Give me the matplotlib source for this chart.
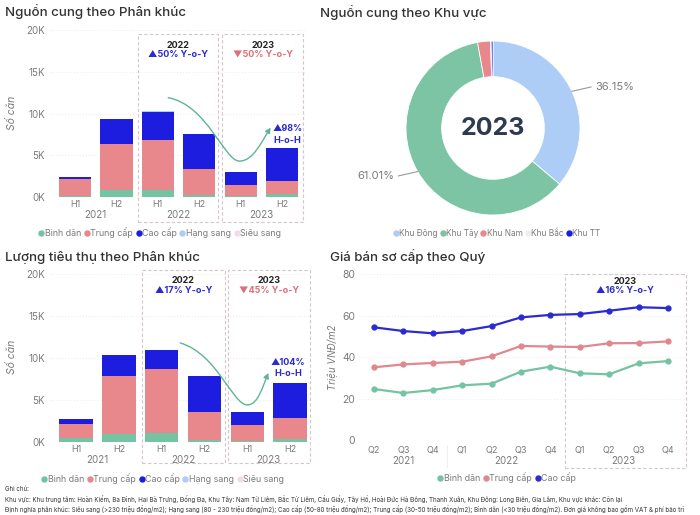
import matplotlib
matplotlib.use("Agg")
import matplotlib.pyplot as plt
import numpy as np
from matplotlib.patches import Rectangle, FancyArrowPatch
from matplotlib.path import Path
from matplotlib.lines import Line2D

plt.rcParams['font.family'] = ['Inter', 'DejaVu Sans']

# ---- data ----
halves = ['H1', 'H2', 'H1', 'H2', 'H1', 'H2']
years = ['2021', '2022', '2023']
segments = ['Bình dân', 'Trung cấp', 'Cao cấp', 'Hạng sang', 'Siêu sang']

supply_binh_dan = [150, 800, 800, 200, 100, 350]
supply_trung_cap = [1950, 5600, 6000, 3200, 1300, 1550]
supply_cao_cap = [300, 2900, 3350, 4200, 1600, 4000]
supply_hang_sang = [0, 0, 100, 0, 0, 0]
supply_sieu_sang = [0, 0, 0, 0, 0, 0]

sales_binh_dan = [450, 900, 1000, 150, 80, 350]
sales_trung_cap = [1650, 6900, 7700, 3350, 1920, 2450]
sales_cao_cap = [600, 2550, 2300, 4350, 1500, 4200]
sales_hang_sang = [0, 50, 0, 50, 0, 0]
sales_sieu_sang = [0, 0, 0, 0, 0, 0]

regions = ['Khu Đông', 'Khu Tây', 'Khu Nam', 'Khu Bắc', 'Khu TT']
region_share = [36.15, 61.01, 2.40, 0.10, 0.34]

quarters = ['Q2', 'Q3', 'Q4', 'Q1', 'Q2', 'Q3', 'Q4', 'Q1', 'Q2', 'Q3', 'Q4']
quarter_years = ['2021', '2022', '2023']
price_binh_dan = [24.6, 22.7, 24.1, 26.4, 27.2, 33.0, 35.4, 32.2, 31.7, 37.0, 38.1]
price_trung_cap = [35.1, 36.5, 37.2, 37.8, 40.4, 45.4, 45.1, 44.9, 46.7, 46.8, 47.6]
price_cao_cap = [54.4, 52.6, 51.5, 52.6, 55.0, 59.2, 60.4, 60.8, 62.4, 64.1, 63.7]

# ---- styling ----
seg_colors = ['#74c3a3', '#e8878c', '#1d1de0', '#aecdf6', '#f3dcea']
region_colors = ['#aecdf6', '#7cc4a4', '#e8878c', '#f0ecf0', '#1d1de0']
BLUE_TXT = '#2a2ad0'
PINK_TXT = '#d9707a'
GRAY = '#7a7a7a'
TITLE = '#333333'
BOX = '#d4c6cc'

W, H = 700, 515
fig = plt.figure(figsize=(7, 5.15), dpi=100)


def px_axes(l, t, r, b):
    return fig.add_axes([l / W, 1 - b / H, (r - l) / W, (b - t) / H])


def style_axes(ax):
    for s in ax.spines.values():
        s.set_visible(False)
    ax.tick_params(length=0, colors=GRAY, labelsize=7)
    ax.grid(axis='y', color='#eeeeee', linestyle=':', linewidth=0.8)
    ax.set_axisbelow(True)


def seg_legend(x, y, labels, colors, size=6.4):
    handles = [Line2D([], [], marker='o', linestyle='', markersize=3.6,
                      markerfacecolor=c, markeredgecolor=c) for c in colors]
    fig.legend(handles, labels, loc='center', bbox_to_anchor=(x / W, 1 - y / H),
               ncol=len(labels), frameon=False, fontsize=size, handletextpad=0.12,
               handlelength=0.5, columnspacing=0.4, labelcolor=GRAY, borderaxespad=0)


def title(x, y, text):
    fig.text(x / W, 1 - y / H, text, fontsize=9.6, color=TITLE, va='center', fontweight='medium')


def bar_panel(ax, stacks, boxes, txt22, txt23, hoh, curve, labels_y):
    x = np.arange(len(halves))
    bottom = np.zeros(len(halves))
    for vals, col in zip(stacks, seg_colors):
        ax.bar(x, vals, 0.78, bottom=bottom, color=col, linewidth=0)
        bottom += np.array(vals)
    ax.set_ylim(0, 20000)
    ax.set_yticks([0, 5000, 10000, 15000, 20000], ['0K', '5K', '10K', '15K', '20K'])
    ax.set_xticks([])
    style_axes(ax)
    hy, yy = labels_y
    for i, h in enumerate(halves):
        ax.text(i, hy, h, ha='center', va='center', fontsize=6.5, color=GRAY)
    for i, yr in enumerate(years):
        ax.text(2 * i + 0.5, yy, yr, ha='center', va='center', fontsize=7, color=GRAY)
    for (x0, x1, y0, y1) in boxes:
        ax.add_patch(Rectangle((x0, y0), x1 - x0, y1 - y0, fill=False, edgecolor=BOX,
                               linestyle=(0, (3, 2)), linewidth=0.8, clip_on=False))
    (c22, c23) = [(b[0] + b[1]) / 2 for b in boxes]
    ty = boxes[0][3] - 1300
    ax.text(c22, ty, '2022', ha='center', va='center', fontsize=6.5, fontweight='bold', color='#222222')
    ax.text(c22, ty - 1100, txt22, ha='center', va='center', fontsize=6.5, fontweight='bold', color=BLUE_TXT)
    ax.text(c23, ty, '2023', ha='center', va='center', fontsize=6.5, fontweight='bold', color='#222222')
    ax.text(c23, ty - 1100, txt23, ha='center', va='center', fontsize=6.5, fontweight='bold', color=PINK_TXT)
    hx, hy1, hy2 = hoh[1]
    ax.text(hx, hy1, hoh[0], ha='center', va='center', fontsize=6.5, fontweight='bold', color=BLUE_TXT)
    ax.text(hx, hy2, 'H-o-H', ha='center', va='center', fontsize=6.5, fontweight='bold', color=BLUE_TXT)
    path = Path(curve, [Path.MOVETO, Path.CURVE4, Path.CURVE4, Path.CURVE4,
                        Path.CURVE4, Path.CURVE4, Path.CURVE4])
    ax.add_patch(FancyArrowPatch(path=path, arrowstyle='-|>,head_length=3,head_width=1.6',
                                 color='#5fb496', linewidth=1.0, clip_on=False))


# ---- top-left: supply by segment ----
title(5, 12, 'Nguồn cung theo Phân khúc')
ax1 = px_axes(50, 30, 305, 197)
ax1.set_xlim(-0.6, 5.55)
bar_panel(ax1, [supply_binh_dan, supply_trung_cap, supply_cao_cap, supply_hang_sang, supply_sieu_sang],
          [(1.525, 3.46, -3000, 19500), (3.56, 5.5, -3000, 19500)],
          '▲50% Y-o-Y', '▼50% Y-o-Y', ('▲98%', (5.13, 8200, 6800)),
          [(2.25, 11900), (3.2, 11000), (3.6, 4300), (3.97, 4300),
           (4.3, 4300), (4.5, 6600), (4.72, 8300)],
          (-850, -2200))
ax1.set_xlim(-0.6, 5.55)
fig.text(12 / W, 1 - 113 / H, 'Số căn', rotation=90, fontsize=7.5, color=GRAY,
         style='italic', ha='center', va='center')
seg_legend(160, 233, segments, seg_colors)

# ---- top-right: supply by region (donut) ----
title(320, 13, 'Nguồn cung theo Khu vực')
cx, cy, R = 493, 128, 87
ax2 = px_axes(cx - 100, cy - 100, cx + 100, cy + 100)
ax2.pie(region_share, colors=region_colors, startangle=90, counterclock=False, radius=1,
        wedgeprops=dict(width=0.41, edgecolor='white', linewidth=0.6))
ax2.set_xlim(-100 / R, 100 / R)
ax2.set_ylim(-100 / R, 100 / R)
ax2.set_aspect('equal')
ax2.axis('off')
ax2.text(0, 0, '2023', ha='center', va='center', fontsize=18, fontweight='bold', color='#2d3a4f')
cum = 0
for share in region_share:
    mid = np.deg2rad(90 - (cum + share / 2) * 3.6)
    cum += share
    if share < 30:
        continue
    ex, ey = np.cos(mid), np.sin(mid)
    side = 1 if ex > 0 else -1
    ax2.plot([ex, ex + side * 0.22], [ey, ey + 0.05 * side], color='#999999', linewidth=0.8,
             clip_on=False)
    ax2.text(ex + side * 0.27, ey + 0.05 * side, f'{share:.2f}%', ha='left' if side > 0 else 'right',
             va='center', fontsize=8, color=GRAY)
seg_legend(497, 233, regions, region_colors, size=6)

# ---- bottom-left: sales by segment ----
title(5, 257, 'Lượng tiêu thụ theo Phân khúc')
ax3 = px_axes(50, 274.3, 312, 441.7)
ax3.set_xlim(-0.61, 5.51)
bar_panel(ax3, [sales_binh_dan, sales_trung_cap, sales_cao_cap, sales_hang_sang, sales_sieu_sang],
          [(1.535, 3.48, -2550, 20500), (3.55, 5.47, -2550, 20500)],
          '▲17% Y-o-Y', '▼45% Y-o-Y', ('▲104%', (4.95, 9500, 8200)),
          [(2.43, 11800), (3.3, 10500), (3.65, 4400), (4.0, 4400),
           (4.25, 4400), (4.35, 6500), (4.49, 8200)],
          (-900, -2200))
ax3.set_xlim(-0.61, 5.51)
fig.text(12 / W, 1 - 357 / H, 'Số căn', rotation=90, fontsize=7.5, color=GRAY,
         style='italic', ha='center', va='center')
seg_legend(163, 479, segments, seg_colors)

# ---- bottom-right: primary price by quarter ----
title(330, 257, 'Giá bán sơ cấp theo Quý')
ax4 = px_axes(359.3, 274.3, 685.6, 440)
qx = np.arange(len(quarters))
line_colors = ['#74c3a3', '#e0878f', '#2b2bd1']
for vals, col in zip([price_binh_dan, price_trung_cap, price_cao_cap], line_colors):
    ax4.plot(qx, vals, color=col, linewidth=1.6, marker='o', markersize=3.5)
ax4.set_xlim(-0.5, 10.6)
ax4.set_ylim(0, 80)
ax4.set_yticks([0, 20, 40, 60, 80])
ax4.set_xticks([])
style_axes(ax4)
ax4.tick_params(axis='y', labelsize=7.5, pad=3)
for i, q in enumerate(quarters):
    ax4.text(i, -5, q, ha='center', va='center', fontsize=6.5, color=GRAY)
for xc, yr in zip([1, 4.5, 8.5], quarter_years):
    ax4.text(xc, -10.3, yr, ha='center', va='center', fontsize=7, color=GRAY)
ax4.plot([2.5, 2.5], [-13, -3], color='#eeeeee', linewidth=0.8, clip_on=False)
ax4.add_patch(Rectangle((6.5, -13.5), 4.1, 93.5, fill=False, edgecolor=BOX,
                        linestyle=(0, (3, 2)), linewidth=0.8, clip_on=False))
ax4.text(8.55, 76.5, '2023', ha='center', va='center', fontsize=6.5, fontweight='bold', color='#222222')
ax4.text(8.55, 72, '▲16% Y-o-Y', ha='center', va='center', fontsize=6.5, fontweight='bold', color=BLUE_TXT)
fig.text(333 / W, 1 - 357 / H, 'Triệu VNĐ/m2', rotation=90, fontsize=7, color=GRAY,
         style='italic', ha='center', va='center')
seg_legend(507, 478, segments[:3], line_colors)

# ---- footnote ----
notes = [
    'Ghi chú:',
    'Khu vực: Khu trung tâm: Hoàn Kiếm, Ba Đình, Hai Bà Trưng, Đống Đa, Khu Tây: Nam Từ Liêm, Bắc Từ Liêm, '
    'Cầu Giấy, Tây Hồ, Hoài Đức Hà Đông, Thanh Xuân, Khu Đông: Long Biên, Gia Lâm, Khu vực khác: Còn lại',
    'Định nghĩa phân khúc: Siêu sang (>230 triệu đồng/m2); Hạng sang (80 - 230 triệu đồng/m2); '
    'Cao cấp (50-80 triệu đồng/m2); Trung cấp (30-50 triệu đồng/m2); Bình dân (<30 triệu đồng/m2). '
    'Đơn giá không bao gồm VAT & phí bảo trì',
]
for i, line in enumerate(notes):
    fig.text(5 / W, 1 - (489 + 9.8 * i) / H, line, fontsize=4.45, color='#333333', va='center')

fig.savefig('out.png', dpi=100, facecolor='white')
